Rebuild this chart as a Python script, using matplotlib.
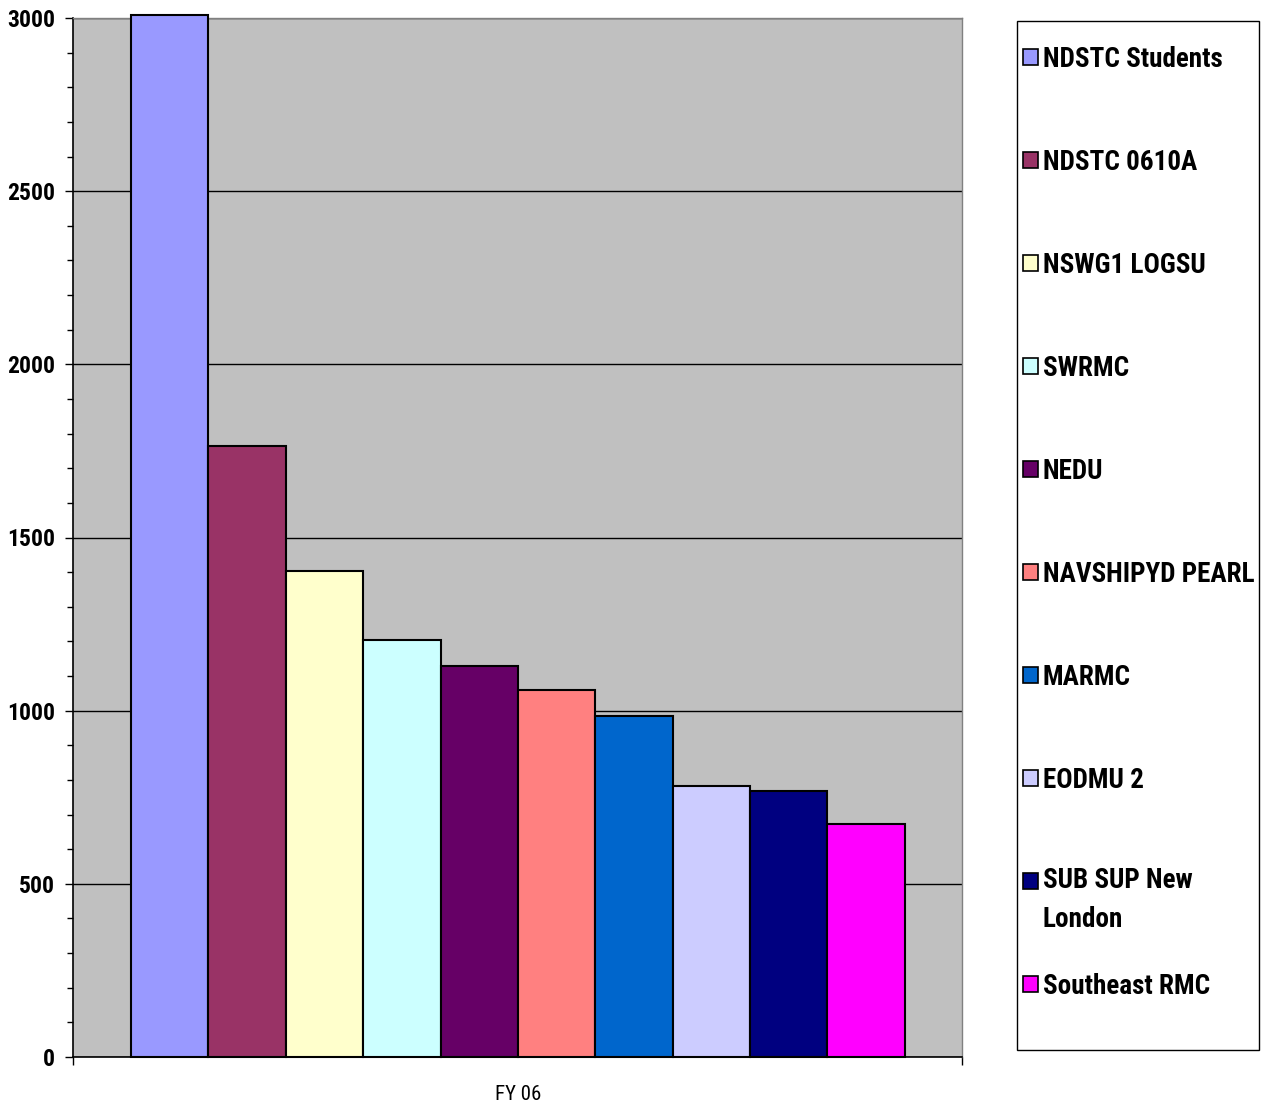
import matplotlib.pyplot as plt
import matplotlib as mpl
from matplotlib import font_manager
from matplotlib.patches import Rectangle

units = ['NDSTC Students', 'NDSTC 0610A', 'NSWG1 LOGSU', 'SWRMC', 'NEDU',
         'NAVSHIPYD PEARL', 'MARMC', 'EODMU 2', 'SUB SUP New\nLondon', 'Southeast RMC']
values = [3010, 1764, 1403, 1204, 1129, 1060, 985, 783, 768, 673]
colors = ['#9999FF', '#993366', '#FFFFCC', '#CCFFFF', '#660066',
          '#FF8080', '#0066CC', '#CCCCFF', '#000080', '#FF00FF']
category = 'FY 06'
y_ticks = [0, 500, 1000, 1500, 2000, 2500, 3000]

# the original uses Arial Narrow; take a condensed face if one is installed
installed = {f.name for f in font_manager.fontManager.ttflist}
narrow = None
for name in ['Liberation Sans Narrow', 'Roboto Condensed', 'Open Sans Condensed',
             'DejaVu Sans Condensed']:
    if name in installed:
        narrow = name
        break
if narrow:
    mpl.rcParams['font.family'] = [narrow, 'Liberation Sans', 'DejaVu Sans']
    legend_size, tick_size, cat_size = 19.5, 17, 15
else:
    mpl.rcParams['font.family'] = ['Liberation Sans', 'DejaVu Sans']
    legend_size, tick_size, cat_size = 16, 15, 13

fig = plt.figure(figsize=(12.61, 11.05), dpi=100)
ax = fig.add_axes([73 / 1261, 1 - 1057 / 1105, 889 / 1261, 1039 / 1105])
ax.set_facecolor('#C0C0C0')

for i, (v, c) in enumerate(zip(values, colors)):
    ax.bar(i, v, width=1.0, color=c, edgecolor='black', linewidth=1.5,
           clip_on=False, zorder=3)

ax.set_xlim(-1.25, 10.24)
ax.set_ylim(0, 3000)
ax.set_yticks(y_ticks)
ax.set_yticklabels([str(t) for t in y_ticks], fontsize=tick_size, fontweight='bold')
ax.set_yticks(range(0, 3001, 100), minor=True)
ax.yaxis.grid(True, which='major', color='black', linewidth=1.0, zorder=1)
ax.set_axisbelow(True)
ax.tick_params(axis='y', which='major', length=6, width=1, pad=7, direction='out')
ax.tick_params(axis='y', which='minor', length=4, width=1, direction='out')

ax.set_xticks([4.5])
ax.set_xticklabels([category], fontsize=cat_size)
ax.tick_params(axis='x', which='major', length=0, pad=20)
ax.set_xticks([-1.25, 10.24], minor=True)
ax.tick_params(axis='x', which='minor', length=6, width=1, direction='out')

for s in ['top', 'right']:
    ax.spines[s].set_color('#808080')
    ax.spines[s].set_linewidth(1.0)
for s in ['left', 'bottom']:
    ax.spines[s].set_color('black')
    ax.spines[s].set_linewidth(1.2)

# legend box drawn by hand so the two-line entry keeps Excel's even spacing
W, H = 1261, 1105
line_gap = 36
fig.patches.append(Rectangle((1017 / W, 1 - 1050 / H), 242 / W, 1029 / H,
                             transform=fig.transFigure, facecolor='white',
                             edgecolor='black', linewidth=1.0))
for i, (lab, c) in enumerate(zip(units, colors)):
    yc = 57 + i * 103
    fig.patches.append(Rectangle((1023 / W, 1 - (yc + 8) / H), 15 / W, 16 / H,
                                 transform=fig.transFigure, facecolor=c,
                                 edgecolor='black', linewidth=1.2))
    extra = lab.count('\n') * line_gap
    fig.text(1043 / W, 1 - (yc + 10 + extra) / H, lab, fontsize=legend_size,
             fontweight='bold', va='baseline', ha='left', linespacing=1.55)

fig.savefig('out.png', dpi=100)
